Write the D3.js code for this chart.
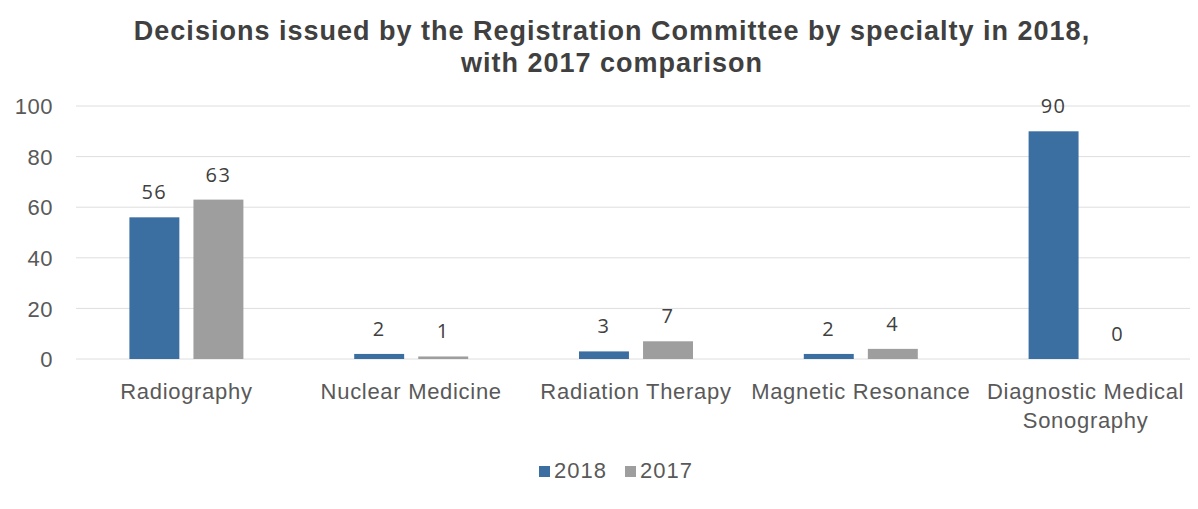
<!DOCTYPE html>
<html>
<head>
<meta charset="utf-8">
<script src="https://cdn.jsdelivr.net/npm/d3@7"></script>
<style>
  body { margin: 0; background: #fff; }
  .axis text, .cat text, .legend text { font-family: "Liberation Sans", Arial, sans-serif; fill: #595959; }
  .title { font-family: "Liberation Sans", Arial, sans-serif; font-weight: bold; fill: #404040; letter-spacing: 1px; }
  .val { font-family: "Open Sans", "Noto Sans", sans-serif; fill: #404040; letter-spacing: 1.5px; }
</style>
</head>
<body>
<div id="chart"></div>
<script>
const categories = ["Radiography", "Nuclear Medicine", "Radiation Therapy", "Magnetic Resonance", "Diagnostic Medical Sonography"];
const seriesNames = ["2018", "2017"];
const values2018 = [56, 2, 3, 2, 90];
const values2017 = [63, 1, 7, 4, 0];
const yTicks = [0, 20, 40, 60, 80, 100];
const titleLines = ["Decisions issued by the Registration Committee by specialty in 2018,", "with 2017 comparison"];
const colors = ["#3b6fa1", "#9e9e9e"];

const W = 1198, H = 509;
const margin = {left: 74, right: 0, top: 106, bottom: 150};

const svg = d3.select("#chart").append("svg")
    .attr("width", W)
    .attr("height", H);

// title
svg.append("text")
    .attr("class", "title")
    .attr("x", 612)
    .attr("y", 40)
    .attr("text-anchor", "middle")
    .attr("font-size", 27)
    .selectAll("tspan")
    .data(titleLines)
    .join("tspan")
    .attr("x", 612)
    .attr("dy", (d, i) => i ? 32 : 0)
    .text(d => d);

const x = d3.scaleBand().domain(categories).range([margin.left, W - margin.right]);
const x1 = d3.scaleBand().domain(seriesNames).range([x.bandwidth() / 2 - 57, x.bandwidth() / 2 + 57]).paddingInner(0.22);
const y = d3.scaleLinear().domain([0, 100]).range([359, 106]);

// grid
svg.append("g")
    .selectAll("line")
    .data(yTicks)
    .join("line")
    .attr("x1", 76)
    .attr("x2", 1190)
    .attr("y1", d => y(d))
    .attr("y2", d => y(d))
    .attr("stroke", "#dedede")
    .attr("stroke-width", 1);

// y axis
const yAxis = svg.append("g")
    .attr("class", "axis")
    .attr("transform", "translate(53,0)")
    .call(d3.axisLeft(y).tickValues(yTicks).tickSize(0).tickPadding(0));
yAxis.select(".domain").remove();
yAxis.selectAll("text").attr("font-size", 22).attr("letter-spacing", 0.5).attr("dy", "0.35em");

// bars
const rows = categories.map((c, i) => ({cat: c, vals: [values2018[i], values2017[i]]}));
const groups = svg.append("g")
    .selectAll("g")
    .data(rows)
    .join("g")
    .attr("transform", d => `translate(${x(d.cat)},0)`);

groups.selectAll("rect")
    .data(d => d.vals.map((v, j) => ({key: seriesNames[j], v: v, j: j})))
    .join("rect")
    .attr("x", d => x1(d.key))
    .attr("width", x1.bandwidth())
    .attr("y", d => y(d.v))
    .attr("height", d => y(0) - y(d.v))
    .attr("fill", d => colors[d.j]);

groups.selectAll("text.val")
    .data(d => d.vals.map((v, j) => ({key: seriesNames[j], v: v})))
    .join("text")
    .attr("class", "val")
    .attr("x", d => x1(d.key) + x1.bandwidth() / 2)
    .attr("y", d => y(d.v) - 18)
    .attr("text-anchor", "middle")
    .attr("font-size", 20)
    .text(d => d.v);

// category labels
const cat = svg.append("g").attr("class", "cat");
cat.selectAll("text")
    .data(categories)
    .join("text")
    .attr("x", d => x(d) + x.bandwidth() / 2)
    .attr("y", 399)
    .attr("text-anchor", "middle")
    .attr("font-size", 22)
    .attr("letter-spacing", 0.7)
    .each(function(d) {
        const t = d3.select(this);
        const lines = d === "Diagnostic Medical Sonography" ? ["Diagnostic Medical", "Sonography"] : [d];
        t.selectAll("tspan").data(lines).join("tspan")
            .attr("x", x(d) + x.bandwidth() / 2)
            .attr("dy", (l, i) => i ? 29 : 0)
            .text(l => l);
    });

// legend
const legend = svg.append("g").attr("class", "legend");
const lx = [539, 625];
seriesNames.forEach((s, i) => {
    legend.append("rect")
        .attr("x", lx[i])
        .attr("y", 466)
        .attr("width", 11)
        .attr("height", 11)
        .attr("fill", colors[i]);
    legend.append("text")
        .attr("x", lx[i] + 15)
        .attr("y", 478)
        .attr("font-size", 22)
        .attr("letter-spacing", 1)
        .text(s);
});
</script>
</body>
</html>
